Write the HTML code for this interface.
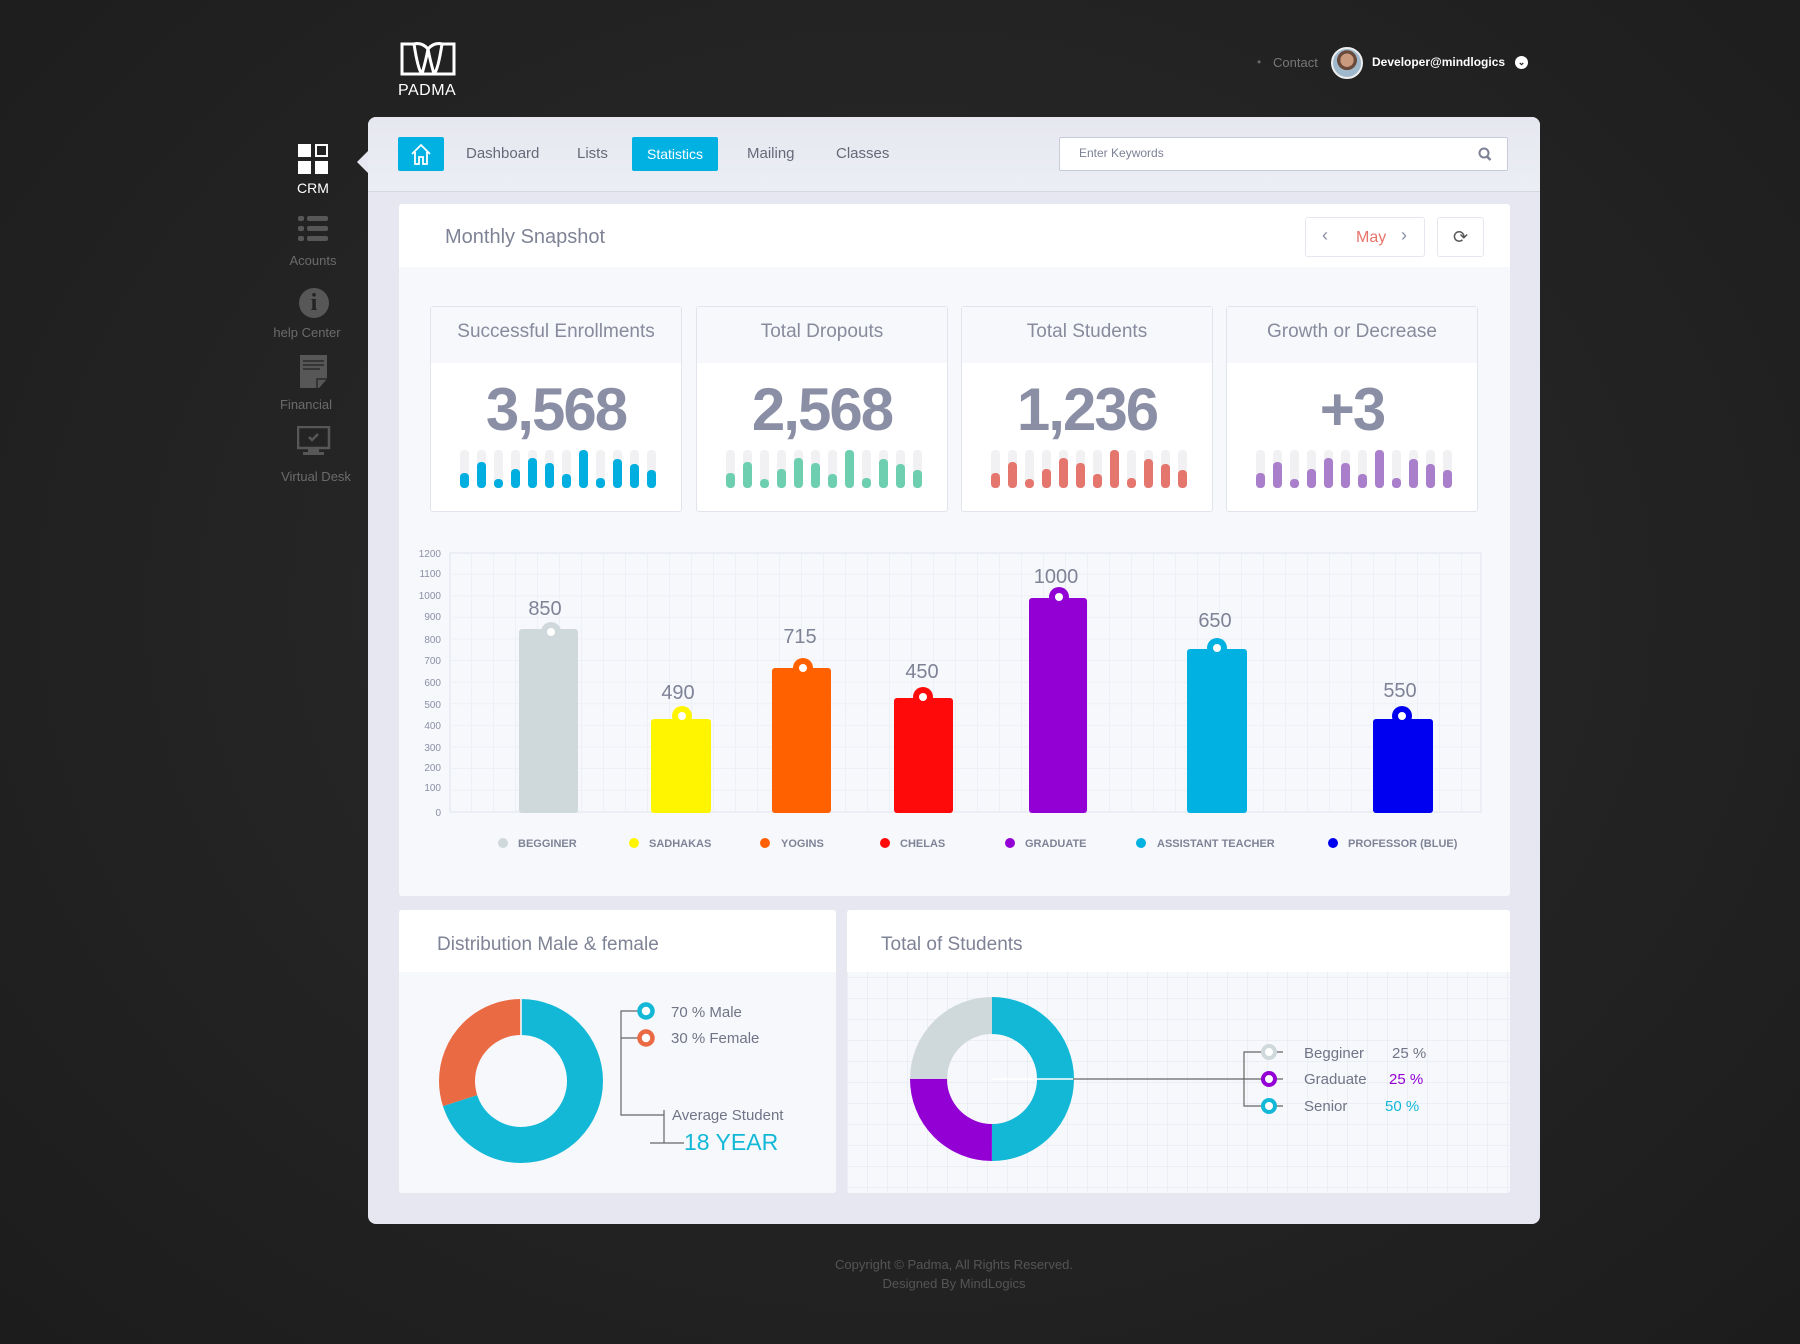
<!DOCTYPE html>
<html><head><meta charset="utf-8">
<style>
*{margin:0;padding:0;box-sizing:border-box}
html,body{width:1800px;height:1344px;overflow:hidden}
body{background:radial-gradient(ellipse at 50% 45%,#2e2e2e 0%,#252525 45%,#1c1c1c 100%);font-family:"Liberation Sans",sans-serif;position:relative}
.a{position:absolute}
.panel{left:368px;top:117px;width:1172px;height:1107px;background:#e6e7f0;border-radius:8px}
.nav{left:368px;top:117px;width:1172px;height:75px;border-bottom:1px solid #d6d8e2;border-radius:8px 8px 0 0;background:linear-gradient(#e6e7f0,#eceef5)}
.navt{font-size:15px;color:#666a78;top:145px}
.card{background:#f7f8fc;border-radius:3px}
.hdr{background:#fff}
.stat{background:#fff;border:1px solid #e2e4ec;border-radius:3px}
.stat .h{position:absolute;left:0;top:0;right:0;height:56px;background:#f7f8fc;text-align:center;font-size:19px;color:#878b9c;line-height:50px}
.stat .n{position:absolute;left:0;right:0;top:68px;text-align:center;font-size:60px;font-weight:bold;color:#8b8fa5;letter-spacing:-2px}
.bars{position:absolute;left:29px;top:143px;height:38px;display:flex;gap:8px}
.bars i{display:block;width:9px;height:38px;background:#f1f1f3;border-radius:4px;position:relative}
.bars i b{position:absolute;left:0;bottom:0;width:9px;border-radius:4px}
.side{color:#6b6b6b;font-size:13px;text-align:center;width:100px}
</style></head><body>

<svg class="a" style="left:400px;top:40px" width="56" height="38" viewBox="0 0 56 38"><path d="M2 4 L14 4 Q18 30 22 34 L34 34 Q38 30 42 4 L54 4 L54 34 L2 34 Z M14 4 Q22 2 28 9 Q34 2 42 4" fill="none" stroke="#fff" stroke-width="3"/><path d="M22 34 Q26 20 28 9 Q30 20 34 34" fill="none" stroke="#fff" stroke-width="3"/></svg>
<div class="a" style="left:398px;top:82px;color:#fff;font-size:16px;letter-spacing:0.5px">PADMA</div>

<div class="a" style="left:1257px;top:55px;color:#666;font-size:12px">•</div>
<div class="a" style="left:1273px;top:55px;color:#777;font-size:13px">Contact</div>
<div class="a" style="left:1331px;top:47px;width:32px;height:32px;border-radius:50%;background:radial-gradient(circle at 50% 40%,#c99a7e 0 30%,#6a4a3a 31% 45%,#9fb8cc 46%);border:2px solid #eee"></div>
<div class="a" style="left:1372px;top:55px;color:#fff;font-size:12px;font-weight:bold">Developer@mindlogics</div>
<div class="a" style="left:1515px;top:56px;width:13px;height:13px;border-radius:50%;background:#fff;color:#222;font-size:9px;line-height:13px;text-align:center;font-weight:bold">⌄</div>

<div class="a" style="left:298px;top:144px;width:13px;height:13px;background:#fff"></div>
<div class="a" style="left:315px;top:144px;width:13px;height:13px;border:2px solid #fff"></div>
<div class="a" style="left:298px;top:161px;width:13px;height:13px;background:#fff"></div>
<div class="a" style="left:315px;top:161px;width:13px;height:13px;background:#fff"></div>
<div class="a side" style="left:263px;top:180px;color:#fff;font-size:14px">CRM</div>
<svg class="a" style="left:298px;top:216px" width="30" height="28"><g fill="#575757"><rect x="0" y="0" width="6" height="5" rx="2"/><rect x="9" y="0" width="21" height="5" rx="2"/><rect x="0" y="10" width="6" height="5" rx="2"/><rect x="9" y="10" width="21" height="5" rx="2"/><rect x="0" y="20" width="6" height="5" rx="2"/><rect x="9" y="20" width="21" height="5" rx="2"/></g></svg>
<div class="a side" style="left:263px;top:253px">Acounts</div>
<div class="a" style="left:299px;top:288px;width:30px;height:30px;border-radius:50%;background:#575757;color:#232323;font-family:'Liberation Serif',serif;font-weight:bold;font-size:24px;text-align:center;line-height:30px">i</div>
<div class="a side" style="left:257px;top:325px">help Center</div>
<svg class="a" style="left:300px;top:355px" width="28" height="34"><path d="M0 0H27V24L19 33H0Z" fill="#575757"/><g stroke="#2a2a2a" stroke-width="1.5"><line x1="3" y1="6" x2="24" y2="6"/><line x1="3" y1="10" x2="24" y2="10"/><line x1="3" y1="14" x2="20" y2="14"/></g><path d="M17 33V24H27" fill="none" stroke="#2a2a2a" stroke-width="1.5"/></svg>
<div class="a side" style="left:256px;top:397px">Financial</div>
<svg class="a" style="left:297px;top:426px" width="34" height="30"><rect x="1" y="1" width="31" height="21" fill="none" stroke="#575757" stroke-width="2.5"/><rect x="11" y="22" width="11" height="4" fill="#575757"/><rect x="6" y="26" width="21" height="3" fill="#575757"/><path d="M12 11l3 3 6-6" stroke="#575757" stroke-width="2.5" fill="none"/></svg>
<div class="a side" style="left:266px;top:469px">Virtual Desk</div>

<div class="a panel"></div>
<div class="a" style="left:357px;top:150px;width:0;height:0;border-top:12px solid transparent;border-bottom:12px solid transparent;border-right:12px solid #e6e7f0"></div>
<div class="a nav"></div>
<div class="a" style="left:398px;top:137px;width:46px;height:34px;background:#00b1e2;border-radius:2px"></div>
<svg class="a" style="left:410px;top:142px" width="22" height="24"><path d="M2 12L11 3L20 12M5 10V22H9V15H13V22H17V10" fill="none" stroke="#fff" stroke-width="1.8"/></svg>
<div class="a navt" style="left:466px">Dashboard</div>
<div class="a navt" style="left:577px">Lists</div>
<div class="a" style="left:632px;top:137px;width:86px;height:34px;background:#00b1e2;border-radius:2px;color:#fff;font-size:14px;text-align:center;line-height:34px">Statistics</div>
<div class="a navt" style="left:747px">Mailing</div>
<div class="a navt" style="left:836px">Classes</div>
<div class="a" style="left:1059px;top:137px;width:449px;height:34px;background:#fff;border:1px solid #c8cbd8;border-radius:2px"></div>
<div class="a" style="left:1079px;top:146px;font-size:12px;color:#7c8194">Enter Keywords</div>
<svg class="a" style="left:1478px;top:147px" width="14" height="15"><circle cx="6" cy="6" r="4.5" fill="none" stroke="#7c8194" stroke-width="2"/><line x1="9" y1="9.5" x2="12.5" y2="13" stroke="#7c8194" stroke-width="2.5"/></svg>

<div class="a card" style="left:399px;top:204px;width:1111px;height:692px"></div>
<div class="a hdr" style="left:399px;top:204px;width:1111px;height:63px;border-radius:3px 3px 0 0"></div>
<div class="a" style="left:445px;top:226px;font-size:20px;color:#7f8396">Monthly Snapshot</div>
<div class="a" style="left:1305px;top:217px;width:120px;height:40px;background:#fff;border:1px solid #e6e7ee;border-radius:3px"></div>
<div class="a" style="left:1322px;top:225px;font-size:18px;color:#8b8fa5">‹</div>
<div class="a" style="left:1356px;top:229px;font-size:16px;color:#e8736b">May</div>
<div class="a" style="left:1401px;top:225px;font-size:18px;color:#8b8fa5">›</div>
<div class="a" style="left:1437px;top:217px;width:47px;height:40px;background:#fff;border:1px solid #e6e7ee;border-radius:3px;text-align:center;line-height:38px;font-size:18px;color:#555">⟳</div>

<div class="a stat" style="left:430px;top:306px;width:252px;height:206px"><div class="h">Successful Enrollments</div><div class="n">3,568</div>
<div class="bars"><i><b style="height:15px;background:#00aee0"></b></i><i><b style="height:26px;background:#00aee0"></b></i><i><b style="height:9px;background:#00aee0"></b></i><i><b style="height:19px;background:#00aee0"></b></i><i><b style="height:30px;background:#00aee0"></b></i><i><b style="height:25px;background:#00aee0"></b></i><i><b style="height:14px;background:#00aee0"></b></i><i><b style="height:38px;background:#00aee0"></b></i><i><b style="height:10px;background:#00aee0"></b></i><i><b style="height:29px;background:#00aee0"></b></i><i><b style="height:24px;background:#00aee0"></b></i><i><b style="height:18px;background:#00aee0"></b></i></div></div>
<div class="a stat" style="left:696px;top:306px;width:252px;height:206px"><div class="h">Total Dropouts</div><div class="n">2,568</div>
<div class="bars"><i><b style="height:15px;background:#6dcfb0"></b></i><i><b style="height:26px;background:#6dcfb0"></b></i><i><b style="height:9px;background:#6dcfb0"></b></i><i><b style="height:19px;background:#6dcfb0"></b></i><i><b style="height:30px;background:#6dcfb0"></b></i><i><b style="height:25px;background:#6dcfb0"></b></i><i><b style="height:14px;background:#6dcfb0"></b></i><i><b style="height:38px;background:#6dcfb0"></b></i><i><b style="height:10px;background:#6dcfb0"></b></i><i><b style="height:29px;background:#6dcfb0"></b></i><i><b style="height:24px;background:#6dcfb0"></b></i><i><b style="height:18px;background:#6dcfb0"></b></i></div></div>
<div class="a stat" style="left:961px;top:306px;width:252px;height:206px"><div class="h">Total Students</div><div class="n">1,236</div>
<div class="bars"><i><b style="height:15px;background:#e5766d"></b></i><i><b style="height:26px;background:#e5766d"></b></i><i><b style="height:9px;background:#e5766d"></b></i><i><b style="height:19px;background:#e5766d"></b></i><i><b style="height:30px;background:#e5766d"></b></i><i><b style="height:25px;background:#e5766d"></b></i><i><b style="height:14px;background:#e5766d"></b></i><i><b style="height:38px;background:#e5766d"></b></i><i><b style="height:10px;background:#e5766d"></b></i><i><b style="height:29px;background:#e5766d"></b></i><i><b style="height:24px;background:#e5766d"></b></i><i><b style="height:18px;background:#e5766d"></b></i></div></div>
<div class="a stat" style="left:1226px;top:306px;width:252px;height:206px"><div class="h">Growth or Decrease</div><div class="n">+3</div>
<div class="bars"><i><b style="height:15px;background:#a97fcb"></b></i><i><b style="height:26px;background:#a97fcb"></b></i><i><b style="height:9px;background:#a97fcb"></b></i><i><b style="height:19px;background:#a97fcb"></b></i><i><b style="height:30px;background:#a97fcb"></b></i><i><b style="height:25px;background:#a97fcb"></b></i><i><b style="height:14px;background:#a97fcb"></b></i><i><b style="height:38px;background:#a97fcb"></b></i><i><b style="height:10px;background:#a97fcb"></b></i><i><b style="height:29px;background:#a97fcb"></b></i><i><b style="height:24px;background:#a97fcb"></b></i><i><b style="height:18px;background:#a97fcb"></b></i></div></div>

<div class="a card" style="left:399px;top:910px;width:437px;height:283px"></div>
<div class="a hdr" style="left:399px;top:910px;width:437px;height:62px;border-radius:3px 3px 0 0"></div>
<div class="a" style="left:437px;top:934px;font-size:19px;color:#7f8396">Distribution Male &amp; female</div>
<div class="a card" style="left:847px;top:910px;width:663px;height:283px;background-color:#f7f8fc;background-image:linear-gradient(#eceef6 1px,transparent 1px),linear-gradient(90deg,#eceef6 1px,transparent 1px);background-size:20px 21px;background-position:0 4px"></div>
<div class="a hdr" style="left:847px;top:910px;width:663px;height:62px;border-radius:3px 3px 0 0"></div>
<div class="a" style="left:881px;top:934px;font-size:19px;color:#7f8396">Total of Students</div>

<div class="a" style="left:777px;top:1255px;width:354px;text-align:center;color:#555;font-size:13px;line-height:19px">Copyright © Padma, All Rights Reserved.<br>Designed By MindLogics</div>

<svg class="a" style="left:0;top:0" width="1800" height="1344" font-family="Liberation Sans, sans-serif">
<defs>
<pattern id="g" x="450" y="553" width="22" height="21.6" patternUnits="userSpaceOnUse"><path d="M22 0V21.6M0 21.6H22" stroke="#eceef5" stroke-width="1.5" fill="none"/></pattern>
</defs>
<rect x="450" y="553" width="1031" height="259" fill="url(#g)" stroke="#eceef5" stroke-width="2"/>
<g font-size="10" fill="#8b8fa5" text-anchor="end">
<text x="441" y="557">1200</text><text x="441" y="577">1100</text><text x="441" y="599">1000</text><text x="441" y="620">900</text><text x="441" y="643">800</text><text x="441" y="664">700</text><text x="441" y="686">600</text><text x="441" y="708">500</text><text x="441" y="729">400</text><text x="441" y="751">300</text><text x="441" y="771">200</text><text x="441" y="791">100</text><text x="441" y="816">0</text>
</g>
<g>
<rect x="519" y="629" width="59" height="184" rx="3" fill="#cfd8da"/>
<rect x="651" y="719" width="60" height="94" rx="3" fill="#fff500"/>
<rect x="772" y="668" width="59" height="145" rx="3" fill="#ff6100"/>
<rect x="894" y="698" width="59" height="115" rx="3" fill="#ff0a0a"/>
<rect x="1029" y="598" width="58" height="215" rx="3" fill="#9300d4"/>
<rect x="1187" y="649" width="60" height="164" rx="3" fill="#00b1e2"/>
<rect x="1373" y="719" width="60" height="94" rx="3" fill="#0000f0"/>
</g>
<g>
<circle cx="551" cy="632" r="10" fill="#cfd8da"/><circle cx="551" cy="632" r="4" fill="#fff"/>
<circle cx="682" cy="716" r="10" fill="#fff500"/><circle cx="682" cy="716" r="4" fill="#fff"/>
<circle cx="803" cy="668" r="10" fill="#ff6100"/><circle cx="803" cy="668" r="4" fill="#fff"/>
<circle cx="923" cy="697" r="10" fill="#ff0a0a"/><circle cx="923" cy="697" r="4" fill="#fff"/>
<circle cx="1059" cy="597" r="10" fill="#9300d4"/><circle cx="1059" cy="597" r="4" fill="#fff"/>
<circle cx="1217" cy="648" r="10" fill="#00b1e2"/><circle cx="1217" cy="648" r="4" fill="#fff"/>
<circle cx="1402" cy="716" r="10" fill="#0000f0"/><circle cx="1402" cy="716" r="4" fill="#fff"/>
</g>
<g font-size="20" fill="#7f8396" text-anchor="middle">
<text x="545" y="615">850</text><text x="678" y="699">490</text><text x="800" y="643">715</text><text x="922" y="678">450</text><text x="1056" y="583">1000</text><text x="1215" y="627">650</text><text x="1400" y="697">550</text>
</g>
<g font-size="11" font-weight="bold" fill="#7f8396">
<circle cx="503" cy="843" r="5" fill="#cfd8da"/><text x="518" y="847">BEGGINER</text>
<circle cx="634" cy="843" r="5" fill="#fff500"/><text x="649" y="847">SADHAKAS</text>
<circle cx="765" cy="843" r="5" fill="#ff6100"/><text x="781" y="847">YOGINS</text>
<circle cx="885" cy="843" r="5" fill="#ff0a0a"/><text x="900" y="847">CHELAS</text>
<circle cx="1010" cy="843" r="5" fill="#9300d4"/><text x="1025" y="847">GRADUATE</text>
<circle cx="1141" cy="843" r="5" fill="#00b1e2"/><text x="1157" y="847">ASSISTANT TEACHER</text>
<circle cx="1333" cy="843" r="5" fill="#0000f0"/><text x="1348" y="847">PROFESSOR (BLUE)</text>
</g>

<g transform="rotate(-90 521 1081)">
<circle cx="521" cy="1081" r="64" fill="none" stroke="#13b8d7" stroke-width="36" stroke-dasharray="281.5 402.1"/>
<circle cx="521" cy="1081" r="64" fill="none" stroke="#e96a43" stroke-width="36" stroke-dasharray="120.6 402.1" stroke-dashoffset="-281.5"/>
</g>
<line x1="521" y1="999" x2="521" y2="1035" stroke="#fff" stroke-width="1.5"/>
<g stroke="#666" stroke-width="1.2" fill="none">
<path d="M646 1011H621V1115H664"/><path d="M621 1038H646"/>
<path d="M664 1110V1143M650 1143H684"/>
</g>
<circle cx="646" cy="1011" r="6.5" fill="#fff" stroke="#13b8d7" stroke-width="4.5"/>
<circle cx="646" cy="1038" r="6.5" fill="#fff" stroke="#e96a43" stroke-width="4.5"/>
<g font-size="15" fill="#707486"><text x="671" y="1017">70 % Male</text><text x="671" y="1043">30 % Female</text><text x="672" y="1120">Average Student</text></g>
<text x="684" y="1150" font-size="23" fill="#13b8d7">18 YEAR</text>

<g transform="rotate(-90 992 1079)">
<circle cx="992" cy="1079" r="63.5" fill="none" stroke="#13b8d7" stroke-width="37" stroke-dasharray="199.5 399"/>
<circle cx="992" cy="1079" r="63.5" fill="none" stroke="#9300d4" stroke-width="37" stroke-dasharray="99.75 399" stroke-dashoffset="-199.5"/>
<circle cx="992" cy="1079" r="63.5" fill="none" stroke="#cfd8da" stroke-width="37" stroke-dasharray="99.75 399" stroke-dashoffset="-299.25"/>
</g>
<line x1="992" y1="1079" x2="1079" y2="1079" stroke="#fff" stroke-width="1.5"/>
<g stroke="#666" stroke-width="1.2" fill="none">
<path d="M1073 1079H1283M1269 1052H1244V1106H1283M1269 1052H1283"/>
</g>
<circle cx="1269" cy="1052" r="6" fill="#fff" stroke="#cfd8da" stroke-width="4"/>
<circle cx="1269" cy="1079" r="6" fill="#fff" stroke="#9300d4" stroke-width="4"/>
<circle cx="1269" cy="1106" r="6" fill="#fff" stroke="#13b8d7" stroke-width="4"/>
<g font-size="15" fill="#707486"><text x="1304" y="1058">Begginer</text><text x="1304" y="1084">Graduate</text><text x="1304" y="1111">Senior</text></g>
<text x="1392" y="1058" font-size="15" fill="#707486">25 %</text>
<text x="1389" y="1084" font-size="15" fill="#9300d4">25 %</text>
<text x="1385" y="1111" font-size="15" fill="#13b8d7">50 %</text>
</svg>
</body></html>
